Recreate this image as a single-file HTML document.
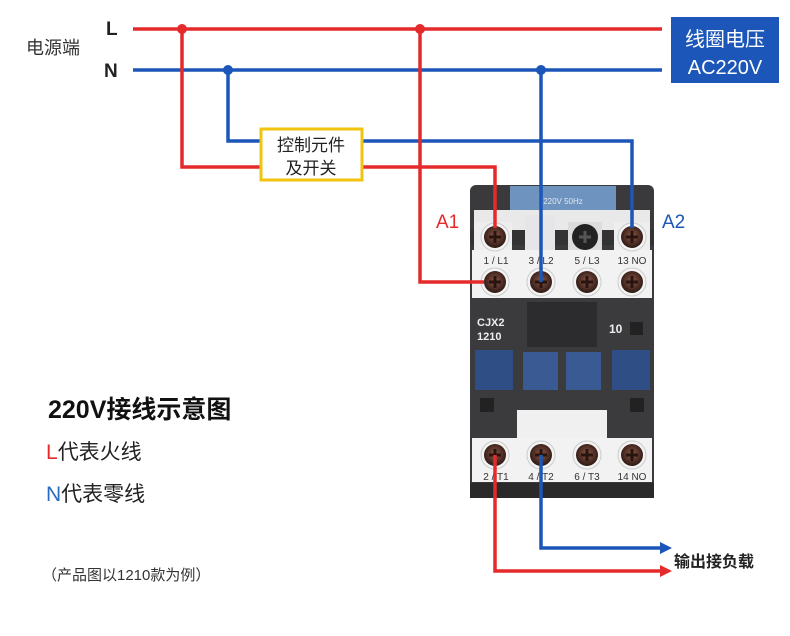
<!DOCTYPE html>
<html><head><meta charset="utf-8">
<style>
body{margin:0;background:#fff;}
svg{display:block;}
text{font-family:"Liberation Sans","Noto Sans CJK SC",sans-serif;}
</style></head><body>
<svg width="790" height="636" viewBox="0 0 790 636" xmlns="http://www.w3.org/2000/svg">
<defs>
<radialGradient id="sc" cx="50%" cy="45%" r="55%"><stop offset="0" stop-color="#8a5a48"/><stop offset="0.7" stop-color="#4a2a22"/><stop offset="1" stop-color="#2a1a14"/></radialGradient>
<g id="screw"><circle r="14" fill="#f3f3f3" stroke="#ccc"/><circle r="11" fill="url(#sc)"/><path d="M-6 0H6M0 -6V6" stroke="#2a1410" stroke-width="3"/></g>
</defs>
<rect x="470" y="185" width="184" height="313" rx="6" fill="#3a3a3c"/>
<rect x="510" y="186" width="106" height="24" fill="#6f93bf"/>
<text x="563" y="204" font-size="8" fill="#dfe7f2" text-anchor="middle">220V 50Hz</text>
<rect x="474" y="210" width="176" height="20" fill="#e9e9ea"/>
<rect x="470" y="230" width="184" height="15" fill="#333"/>
<rect x="474" y="222" width="38" height="28" fill="#eee"/>
<rect x="614" y="222" width="36" height="28" fill="#eee"/>
<rect x="525" y="215" width="30" height="35" fill="#e6e6e8"/>
<rect x="568" y="222" width="34" height="28" fill="#dcdcdc"/>
<rect x="472" y="250" width="180" height="48" fill="#f2f2f2"/>
<g font-size="10" fill="#333" text-anchor="middle">
<text x="496" y="264">1 / L1</text><text x="541" y="264">3 / L2</text><text x="587" y="264">5 / L3</text><text x="632" y="264">13 NO</text></g>
<use href="#screw" x="495" y="237"/><circle cx="585" cy="237" r="13" fill="#222"/><path d="M579 237h12M585 231v12" stroke="#555" stroke-width="3"/><use href="#screw" x="632" y="237"/>
<use href="#screw" x="495" y="282"/><use href="#screw" x="541" y="282"/><use href="#screw" x="587" y="282"/><use href="#screw" x="632" y="282"/>
<rect x="470" y="298" width="184" height="140" fill="#3b3b3d"/>
<rect x="527" y="302" width="70" height="45" fill="#2c2c2e"/>
<text x="477" y="326" font-size="11" font-weight="bold" fill="#eee">CJX2</text>
<text x="477" y="340" font-size="11" font-weight="bold" fill="#eee">1210</text>
<text x="609" y="333" font-size="12" font-weight="bold" fill="#eee">10</text>
<rect x="630" y="322" width="13" height="13" fill="#222"/>
<rect x="475" y="350" width="38" height="40" fill="#2f4e86"/>
<rect x="523" y="352" width="35" height="38" fill="#3a5a94"/>
<rect x="566" y="352" width="35" height="38" fill="#3a5a94"/>
<rect x="612" y="350" width="38" height="40" fill="#2f4e86"/>
<rect x="480" y="398" width="14" height="14" fill="#222"/><rect x="630" y="398" width="14" height="14" fill="#222"/>
<rect x="517" y="410" width="90" height="28" fill="#f0f0f0"/>
<rect x="472" y="438" width="180" height="44" fill="#f2f2f2"/>
<use href="#screw" x="495" y="455"/><use href="#screw" x="541" y="455"/><use href="#screw" x="587" y="455"/><use href="#screw" x="632" y="455"/>
<g font-size="10" fill="#333" text-anchor="middle">
<text x="496" y="480">2 / T1</text><text x="541" y="480">4 / T2</text><text x="587" y="480">6 / T3</text><text x="632" y="480">14 NO</text></g>
<rect x="470" y="483" width="184" height="15" fill="#2a2a2a"/>

<g fill="none" stroke-width="3.5" stroke-linejoin="miter">
<path d="M133 29H662" stroke="#e42a2a"/>
<path d="M133 70H662" stroke="#1b56b8"/>
<path d="M182 29V167H261M362 167H495V228" stroke="#e42a2a"/>
<path d="M228 70V141H261M362 141H632V228" stroke="#1b56b8"/>
<path d="M420 29V282H484" stroke="#e42a2a"/>
<path d="M541 70V282" stroke="#1b56b8"/>
<path d="M495 455V571H662" stroke="#e42a2a"/>
<path d="M541 455V548H662" stroke="#1b56b8"/>
</g>
<circle cx="182" cy="29" r="5" fill="#e42a2a"/><circle cx="420" cy="29" r="5" fill="#e42a2a"/>
<circle cx="228" cy="70" r="5" fill="#1b56b8"/><circle cx="541" cy="70" r="5" fill="#1b56b8"/>
<path d="M660 542L672 548L660 554Z" fill="#1b56b8"/>
<path d="M660 565L672 571L660 577Z" fill="#e42a2a"/>

<rect x="261" y="129" width="101" height="51" fill="#fff" stroke="#f2c40f" stroke-width="3"/>
<text x="311" y="151" font-size="17" fill="#222" text-anchor="middle">控制元件</text>
<text x="311" y="174" font-size="17" fill="#222" text-anchor="middle">及开关</text>

<text x="106" y="35" font-size="19" font-weight="bold" fill="#222">L</text>
<text x="104" y="77" font-size="19" font-weight="bold" fill="#222">N</text>
<text x="26" y="54" font-size="18" fill="#333">电源端</text>

<rect x="671" y="17" width="108" height="66" fill="#1b56b8"/>
<text x="725" y="46" font-size="20" fill="#fff" text-anchor="middle">线圈电压</text>
<text x="725" y="74" font-size="20" fill="#fff" text-anchor="middle">AC220V</text>

<text x="436" y="228" font-size="19" fill="#e42a2a">A1</text>
<text x="662" y="228" font-size="19" fill="#1b56b8">A2</text>

<text x="674" y="567" font-size="16" font-weight="bold" fill="#222">输出接负载</text>

<text x="48" y="418" font-size="25" font-weight="bold" fill="#111">220V接线示意图</text>
<text x="46" y="459" font-size="21" fill="#222"><tspan fill="#e42a2a">L</tspan>代表火线</text>
<text x="46" y="501" font-size="21" fill="#222"><tspan fill="#2a6cc2">N</tspan>代表零线</text>
<text x="42" y="580" font-size="15" fill="#333">（产品图以1210款为例）</text>
</svg>
</body></html>
